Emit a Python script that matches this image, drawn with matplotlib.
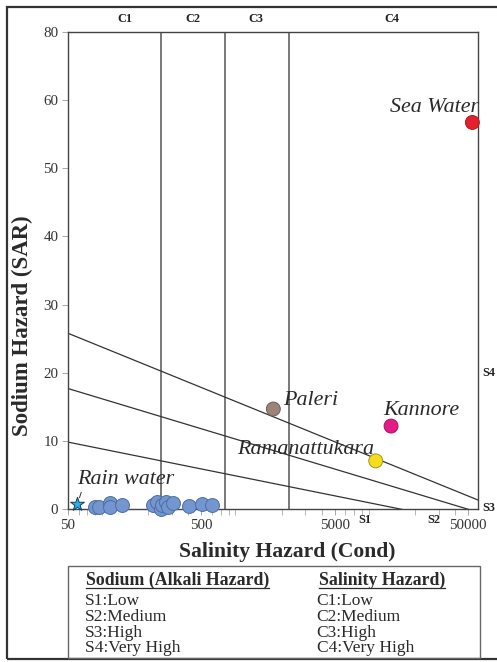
import matplotlib
matplotlib.use("Agg")
import matplotlib.pyplot as plt
from matplotlib.patches import Rectangle
from matplotlib.lines import Line2D
from matplotlib.ticker import FixedLocator, LogLocator, NullFormatter

plt.rcParams['font.family'] = ['Liberation Serif', 'DejaVu Serif']

# groundwater samples (EC, SAR)
gw_ec = [79, 86, 103, 103, 128, 215, 233, 248, 255, 272, 282, 305, 406, 505, 597]
gw_sar = [0.38, 0.38, 0.97, 0.35, 0.63, 0.63, 1.1, 0.1, 0.6, 1.0, 0.35, 0.88, 0.48, 0.78, 0.63]

# named samples
named = ['Sea Water', 'Paleri', 'Kannore', 'Ramanattukara']
named_ec = [53700, 1730, 13200, 10130]
named_sar = [56.7, 14.7, 12.2, 7.1]
named_col = ['#e3202b', '#9a8478', '#e31b84', '#f6dc1e']
named_edge = ['#b01822', '#6e5e54', '#a8125f', '#a8921a']
label_x = [60000, 2035, 11560, 929]
label_y = [58.9, 16.0, 14.5, 8.8]
label_ha = ['right', 'left', 'left', 'left']

rain_ec, rain_sar = 58.7, 0.73

# class boundaries
c_bounds = [250, 750, 2250]
c_names = ['C1', 'C2', 'C3', 'C4']
c_name_x = [134, 430, 1277, 13430]
s_lines_x = [[50, 15850], [50, 50000], [50, 59200]]
s_lines_y = [[9.85, 0], [17.7, 0], [25.8, 1.36]]

yticks = [0, 10, 20, 30, 40, 50, 60, 70]
ytick_labels = ['0', '10', '20', '30', '40', '50', '60', '80']
xticks = [50, 500, 5000, 50000]

W, H = 497, 662
fig = plt.figure(figsize=(W / 100, H / 100), dpi=100)
ax = fig.add_axes([68 / W, 1 - 509.3 / H, 410 / W, 477.6 / H])

ax.set_xscale('log')
ax.set_xlim(50, 59200)
ax.set_ylim(0, 70)

for c in c_bounds:
    ax.axvline(c, color='#555555', lw=1.1, zorder=1)
for xs, ys in zip(s_lines_x, s_lines_y):
    ax.plot(xs, ys, color='#333333', lw=0.9, zorder=1)

ax.scatter(gw_ec, gw_sar, s=100, c='#7396d0', edgecolors='#4d6ea3', linewidths=0.7, zorder=3, clip_on=False)
ax.scatter(named_ec, named_sar, s=100, c=named_col, edgecolors=named_edge, linewidths=0.7, zorder=3, clip_on=False)
ax.scatter([rain_ec], [rain_sar], s=110, marker='*', c='#27b2e8', edgecolors='#1a3b5c', linewidths=0.7, zorder=4, clip_on=False)

for n, x, y, ha in zip(named, label_x, label_y, label_ha):
    ax.text(x, y, n, ha=ha, va='center', fontsize=15.8, style='italic', color='#2a2a2a', zorder=5, clip_on=False)
ax.annotate('Rain water', xy=(rain_ec, rain_sar), xytext=(rain_ec, 4.3), ha='left', va='center',
            fontsize=15.8, style='italic', color='#2a2a2a',
            arrowprops=dict(arrowstyle='-', color='#333333', lw=0.7, relpos=(0.06, 0.15),
                            shrinkA=0, shrinkB=5))

for n, x in zip(c_names, c_name_x):
    ax.text(x, 71.8, n, ha='center', va='center', fontsize=8.8, fontweight='bold', color='#222222', clip_on=False)

s_lab = ['S1', 'S2', 'S3', 'S4']
s_lab_x = [8420, 27700, 64200, 64200]
s_lab_y = [-1.6, -1.6, 0.2, 20.0]
s_lab_ha = ['center', 'center', 'left', 'left']
for n, x, y, ha in zip(s_lab, s_lab_x, s_lab_y, s_lab_ha):
    ax.text(x, y, n, ha=ha, va='center', fontsize=8.8, fontweight='bold', color='#222222', clip_on=False)

ax.xaxis.set_major_locator(FixedLocator(xticks))
ax.set_xticklabels([str(v) for v in xticks])
ax.xaxis.set_minor_locator(LogLocator(base=10, subs=range(2, 10)))
ax.xaxis.set_minor_formatter(NullFormatter())
ax.set_yticks(yticks)
ax.set_yticklabels(ytick_labels)
ax.tick_params(axis='both', which='major', direction='out', length=4, width=0.6,
               color='#999999', labelsize=10.8, labelcolor='#333333', pad=3)
ax.tick_params(axis='x', which='minor', direction='out', length=4, width=0.6, color='#aaaaaa')
for sp in ax.spines.values():
    sp.set_color('#444444')
    sp.set_linewidth(1.0)

fig.text(287 / W, 1 - 551.7 / H, 'Salinity Hazard (Cond)', ha='center', va='center',
         fontsize=15.6, fontweight='bold', color='#2a2a2a')
fig.text(22.5 / W, 1 - 326 / H, 'Sodium Hazard (SAR)', ha='center', va='center', rotation=90,
         fontsize=16.5, fontweight='bold', color='#2a2a2a')

# outer frame and legend box
fig.add_artist(Rectangle((7 / W, 1 - 659 / H), 1.0, (652 / H), transform=fig.transFigure,
                         fill=False, ec='#333333', lw=1.6))
fig.add_artist(Rectangle((68 / W, 1 - 658 / H), 412 / W, 92 / H, transform=fig.transFigure,
                         fill=False, ec='#666666', lw=1.0))

heads = [fig.text(86 / W, 1 - 580 / H, 'Sodium (Alkali Hazard)', ha='left', va='center',
                  fontsize=12.8, fontweight='bold', color='#2a2a2a'),
         fig.text(319 / W, 1 - 580 / H, 'Salinity Hazard)', ha='left', va='center',
                  fontsize=12.8, fontweight='bold', color='#2a2a2a')]

s_items = ['S1:Low', 'S2:Medium', 'S3:High', 'S4:Very High']
c_items = ['C1:Low', 'C2:Medium', 'C3:High', 'C4:Very High']
row_y = [601, 617, 633, 648.5]
for s, c, y in zip(s_items, c_items, row_y):
    fig.text(85 / W, 1 - y / H, s, ha='left', va='center', fontsize=12.5, color='#2a2a2a')
    fig.text(316.7 / W, 1 - y / H, c, ha='left', va='center', fontsize=12.5, color='#2a2a2a')

fig.canvas.draw()
r = fig.canvas.get_renderer()
inv = fig.transFigure.inverted()
for t in heads:
    bb = t.get_window_extent(r)
    (x0, y0), (x1, _) = inv.transform([(bb.x0, bb.y0 + 1), (bb.x1, bb.y0)])
    fig.add_artist(Line2D([x0, x1], [y0, y0], transform=fig.transFigure, color='#2a2a2a', lw=0.9))

fig.savefig('out.png', dpi=100)
